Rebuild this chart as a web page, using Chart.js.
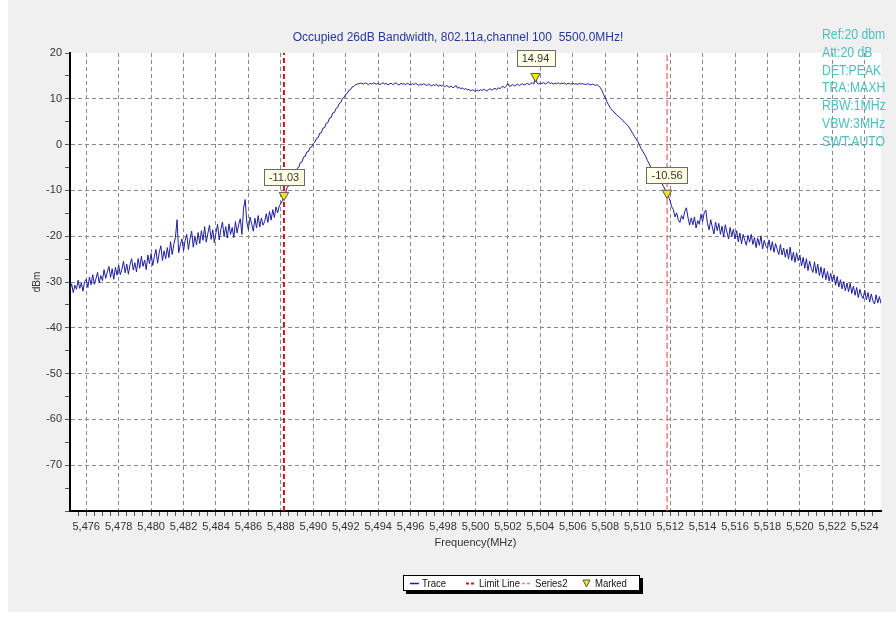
<!DOCTYPE html>
<html><head><meta charset="utf-8">
<script src="https://cdn.jsdelivr.net/npm/chart.js@4.4.1/dist/chart.umd.min.js"></script>
<style>
html,body{margin:0;padding:0;background:#ffffff;}
#wrap{position:relative;width:896px;height:617px;}
canvas{display:block;}
</style></head><body>
<div id="wrap"><canvas id="c" width="896" height="617"></canvas></div>
<script>
// ---- chart texts ----
const chartTitle = 'Occupied 26dB Bandwidth, 802.11a,channel 100  5500.0MHz!';
const infoLines = ['Ref:20 dbm', 'Att:20 dB', 'DET:PEAK', 'TRA:MAXH', 'RBW:1MHz', 'VBW:3MHz', 'SWT:AUTO'];
const xAxisTitle = 'Frequency(MHz)';
const yAxisTitle = 'dBm';

// ---- trace: sampled every 0.1 MHz starting at 5475 MHz ----
const traceStartMHz = 5475;
const traceStepMHz = 0.1;
const traceDbm = [
 -31.8,-30.4,-32.3,-30.7,-31.6,-29.6,-31.4,-30.2,-32.0,-29.9,
 -29.4,-31.2,-28.9,-30.6,-28.4,-30.5,-29.3,-27.9,-30.2,-28.6,
 -29.7,-27.3,-29.2,-27.8,-26.6,-29.0,-27.1,-29.4,-26.8,-28.5,
 -26.3,-28.4,-27.2,-25.5,-28.0,-26.1,-28.3,-26.2,-24.9,-27.4,
 -25.8,-27.8,-24.9,-27.0,-24.4,-26.6,-25.2,-27.3,-24.1,-26.0,
 -23.8,-26.4,-24.5,-22.9,-25.9,-23.6,-22.1,-25.3,-23.2,-24.9,
 -22.5,-24.7,-21.2,-24.0,-21.8,-20.3,-16.4,-23.6,-21.9,-20.6,
 -23.2,-20.9,-19.6,-22.9,-20.6,-18.9,-22.4,-20.0,-21.9,-19.2,
 -21.6,-18.8,-20.9,-17.9,-21.3,-19.4,-17.6,-20.7,-18.6,-21.4,
 -19.2,-17.4,-20.8,-18.5,-16.9,-20.1,-17.9,-20.4,-17.3,-19.6,
 -18.1,-20.3,-16.8,-19.3,-17.4,-16.2,-19.6,-13.9,-12.0,-16.9,
 -18.6,-15.8,-17.3,-18.9,-16.1,-18.2,-15.5,-18.0,-16.0,-17.6,
 -16.8,-15.1,-17.0,-14.6,-16.5,-14.2,-15.9,-13.6,-14.9,-13.4,
 -12.9,-12.2,-11.03,-10.4,-9.2,-9.0,-7.9,-7.6,-6.5,-6.3,
 -5.2,-5.0,-3.9,-3.8,-2.7,-2.6,-1.6,-1.5,-0.6,-0.5,
 0.2,0.6,1.4,1.5,2.5,2.6,3.6,3.7,4.7,4.8,
 5.8,5.9,6.9,7.0,7.9,8.1,9.0,9.2,10.1,10.3,
 11.0,11.2,11.9,12.0,12.6,12.7,13.1,13.2,13.3,13.4,
 13.4,13.2,13.5,13.3,13.1,13.4,13.2,13.5,13.3,13.2,
 13.4,13.1,13.3,13.5,13.2,13.4,13.0,13.3,13.4,13.1,
 13.3,13.5,13.2,13.0,13.4,13.2,13.3,13.1,13.4,13.2,
 13.0,13.3,13.1,13.4,13.2,12.9,13.2,13.0,13.3,13.1,
 12.9,13.2,13.0,12.8,13.1,12.9,13.2,12.7,13.0,12.8,
 12.9,12.6,12.9,12.7,12.5,12.8,12.4,12.6,12.9,12.3,
 12.5,12.2,12.4,12.0,12.3,11.9,12.1,11.7,12.0,11.8,
 11.6,11.9,11.7,12.0,11.8,12.1,11.9,11.7,12.0,12.2,
 11.9,12.1,12.3,12.0,12.4,12.2,12.5,12.7,12.4,12.8,
 13.3,12.7,12.9,13.1,12.8,13.0,13.2,12.9,13.1,13.3,
 13.0,13.2,13.4,13.1,13.3,13.5,13.2,14.94,13.4,13.2,
 13.5,13.3,13.6,13.2,13.4,13.7,13.3,13.5,13.2,13.4,
 13.3,13.5,13.2,13.4,13.3,13.5,13.1,13.4,13.3,13.2,
 13.4,13.2,13.3,13.1,13.4,13.2,13.3,13.2,13.1,13.3,
 13.2,13.0,13.2,13.1,12.9,13.1,12.8,12.4,11.8,10.9,
 10.2,9.4,8.7,8.1,7.6,7.2,6.9,6.5,6.2,5.9,
 5.6,5.2,4.8,4.5,4.1,3.6,3.0,2.4,1.8,1.2,
 0.7,0.0,-0.8,-1.4,-2.0,-2.6,-3.5,-4.1,-4.9,-5.3,
 -5.6,-6.2,-6.9,-7.3,-7.8,-8.5,-9.2,-9.9,-10.56,-11.4,
 -12.3,-13.6,-14.2,-15.8,-14.9,-16.4,-17.0,-15.5,-16.3,-14.6,
 -13.8,-15.9,-17.6,-16.0,-17.5,-15.8,-18.2,-16.6,-17.4,-15.2,
 -16.8,-14.9,-14.3,-17.2,-18.6,-16.4,-18.0,-19.5,-16.9,-18.8,
 -17.2,-19.6,-17.8,-20.2,-17.5,-19.1,-20.6,-18.1,-20.0,-18.5,
 -20.6,-18.8,-21.2,-19.3,-21.7,-19.6,-20.9,-22.0,-19.8,-21.3,
 -19.6,-21.8,-20.3,-22.5,-20.4,-22.0,-19.9,-22.8,-20.9,-22.1,
 -22.7,-20.8,-23.1,-21.2,-23.5,-21.6,-22.9,-24.0,-21.8,-24.1,
 -22.6,-24.6,-22.8,-25.0,-22.4,-25.3,-23.5,-25.7,-23.6,-25.4,
 -24.1,-26.5,-24.6,-27.0,-24.9,-27.5,-25.4,-27.0,-27.9,-25.6,
 -28.1,-26.1,-28.6,-26.7,-29.1,-27.0,-29.5,-27.7,-29.8,-28.1,
 -30.0,-28.4,-30.7,-28.8,-31.1,-29.5,-31.5,-29.9,-31.9,-30.2,
 -32.1,-30.3,-32.5,-30.9,-32.9,-31.2,-33.4,-31.6,-33.0,-33.6,
 -31.8,-33.9,-32.3,-34.4,-32.6,-34.1,-34.8,-32.8,-34.6,-33.2,
 -34.7
];

// ---- vertical lines and markers ----
const limitLineMHz = 5488.19;
const series2MHz = 5511.81;
const markerMHz = [5488.19, 5503.70, 5511.81];
const markerDbm = [-11.03, 14.94, -10.56];

// ---- axes ----
const xMin = 5475, xMax = 5525;
const yMin = -80, yMax = 20;
const xLabelTicks = [5476,5478,5480,5482,5484,5486,5488,5490,5492,5494,5496,5498,5500,5502,5504,5506,5508,5510,5512,5514,5516,5518,5520,5522,5524];
const xMinorStep = 0.5;
const yLabelTicks = [20,10,0,-10,-20,-30,-40,-50,-60,-70];
const yMinorStep = 5;

const FONT = "'Liberation Sans', Arial, sans-serif";

const traceData = traceDbm.map((v, i) => ({x: traceStartMHz + i * traceStepMHz, y: v}));
const markerData = markerMHz.map((f, i) => ({x: f, y: markerDbm[i]}));

const bgPlugin = {
  id: 'bg',
  beforeDraw(chart) {
    const ctx = chart.ctx, a = chart.chartArea;
    ctx.save();
    ctx.fillStyle = '#ffffff';
    ctx.fillRect(0, 0, chart.width, chart.height);
    ctx.fillStyle = '#f0f0f0';
    ctx.fillRect(8, 0, chart.width - 8, 612);
    ctx.fillStyle = '#ffffff';
    ctx.fillRect(a.left, a.top, a.right - a.left, a.bottom - a.top);
    ctx.restore();
  }
};

const textPlugin = {
  id: 'texts',
  afterDraw(chart) {
    const ctx = chart.ctx;
    ctx.save();
    ctx.font = '12px ' + FONT;
    ctx.fillStyle = '#27379a';
    ctx.textAlign = 'center';
    ctx.textBaseline = 'alphabetic';
    ctx.fillText(chartTitle, 458, 41);
    ctx.restore();
    ctx.save();
    ctx.font = '14px ' + FONT;
    ctx.fillStyle = '#4ec0c0';
    ctx.textAlign = 'left';
    ctx.translate(822, 0);
    ctx.scale(0.875, 1);
    infoLines.forEach((t, i) => ctx.fillText(t, 0, 39 + i * 17.8));
    ctx.restore();
  }
};

const markerLabelPlugin = {
  id: 'markerLabels',
  afterDatasetsDraw(chart) {
    const ctx = chart.ctx;
    const idx = chart.data.datasets.findIndex(d => d.label === 'Marked');
    const meta = chart.getDatasetMeta(idx);
    ctx.save();
    ctx.font = '11px ' + FONT;
    ctx.textAlign = 'center';
    ctx.textBaseline = 'middle';
    meta.data.forEach((el, i) => {
      const txt = markerDbm[i].toFixed(2);
      const w = ctx.measureText(txt).width + 10, h = 16;
      const cx = el.x, cy = el.y - 18;
      ctx.fillStyle = '#ffffe6';
      ctx.fillRect(Math.round(cx - w / 2) + 0.5, Math.round(cy - h / 2) + 0.5, Math.round(w), h);
      ctx.strokeStyle = '#6a6a6a';
      ctx.lineWidth = 1;
      ctx.strokeRect(Math.round(cx - w / 2) + 0.5, Math.round(cy - h / 2) + 0.5, Math.round(w), h);
      ctx.fillStyle = '#333';
      ctx.fillText(txt, cx, cy + 1);
    });
    ctx.restore();
  }
};

const legendPlugin = {
  id: 'boxLegend',
  afterDraw(chart) {
    const ctx = chart.ctx;
    const x = 403, y = 575, w = 237, h = 16;
    const ds = chart.data.datasets;
    ctx.save();
    ctx.fillStyle = '#000';
    ctx.fillRect(x + 3, y + 3, w, h);
    ctx.fillStyle = '#fff';
    ctx.fillRect(x, y, w, h);
    ctx.strokeStyle = '#000';
    ctx.lineWidth = 1;
    ctx.strokeRect(x + 0.5, y + 0.5, w - 1, h - 1);
    ctx.font = '11px ' + FONT;
    ctx.textBaseline = 'middle';
    ctx.textAlign = 'left';
    const cy = y + h / 2 + 0.5;
    const items = [
      {ds: ds[0], sx: 410, tx: 422},
      {ds: ds[1], sx: 466, tx: 479},
      {ds: ds[2], sx: 522, tx: 535},
      {ds: ds[3], sx: 583, tx: 595}
    ];
    items.forEach(it => {
      const d = it.ds;
      if (d.label === 'Marked') {
        ctx.beginPath();
        ctx.moveTo(it.sx, cy - 3.5);
        ctx.lineTo(it.sx + 7, cy - 3.5);
        ctx.lineTo(it.sx + 3.5, cy + 3.5);
        ctx.closePath();
        ctx.fillStyle = d.backgroundColor;
        ctx.fill();
        ctx.strokeStyle = d.borderColor;
        ctx.stroke();
      } else {
        ctx.beginPath();
        ctx.strokeStyle = d.borderColor;
        ctx.lineWidth = d.label === 'Limit Line' ? 2 : 1.5;
        ctx.setLineDash(d.borderDash ? [3, 2] : []);
        ctx.moveTo(it.sx, cy);
        ctx.lineTo(it.sx + 9, cy);
        ctx.stroke();
        ctx.setLineDash([]);
        ctx.lineWidth = 1;
      }
      ctx.save();
      ctx.translate(it.tx, cy);
      ctx.scale(0.87, 1);
      ctx.fillStyle = '#111';
      ctx.fillText(d.label, 0, 0);
      ctx.restore();
    });
    ctx.restore();
  }
};

new Chart(document.getElementById('c'), {
  type: 'line',
  data: {
    datasets: [
      {label: 'Trace', data: traceData, borderColor: '#1e1ea0', borderWidth: 1, pointRadius: 0, tension: 0, order: 3},
      {label: 'Limit Line', data: [{x: limitLineMHz, y: yMin}, {x: limitLineMHz, y: yMax}], borderColor: '#c41a1a', borderWidth: 2, borderDash: [5, 3], pointRadius: 0, order: 1},
      {label: 'Series2', data: [{x: series2MHz, y: yMin}, {x: series2MHz, y: yMax}], borderColor: '#f08080', borderWidth: 1.5, borderDash: [6, 3], pointRadius: 0, order: 2},
      {label: 'Marked', data: markerData, showLine: false, pointStyle: 'triangle', rotation: 180, pointRadius: 5.5, backgroundColor: '#f4e41c', borderColor: '#555', borderWidth: 1, order: 0}
    ]
  },
  options: {
    responsive: false,
    animation: false,
    devicePixelRatio: 1,
    layout: {padding: {top: 53, right: 15, left: 0, bottom: 0}},
    plugins: {legend: {display: false}, tooltip: {enabled: false}, title: {display: false}},
    scales: {
      x: {
        type: 'linear', min: xMin, max: xMax,
        afterBuildTicks(s) {
          const t = [];
          for (let v = xMin + xMinorStep; v < xMax; v += xMinorStep) t.push({value: v});
          s.ticks = t;
        },
        afterFit(s) { s.height = 106; },
        ticks: {
          autoSkip: false, maxRotation: 0, minRotation: 0, padding: 4, color: '#333',
          font: {family: FONT, size: 11},
          callback: (v) => xLabelTicks.includes(v) ? v.toLocaleString('en-US') : ''
        },
        grid: {
          color: (c) => (c.tick && xLabelTicks.includes(c.tick.value)) ? '#8a8a8a' : 'rgba(0,0,0,0)',
          tickColor: '#555', tickLength: 5, lineWidth: 1
        },
        border: {display: true, color: '#000', width: 2, dash: [4, 3]},
        title: {display: true, text: xAxisTitle, color: '#333', font: {family: FONT, size: 11}, padding: {top: 0, bottom: 67}}
      },
      y: {
        type: 'linear', min: yMin, max: yMax,
        afterBuildTicks(s) {
          const t = [];
          for (let v = yMin; v <= yMax; v += yMinorStep) t.push({value: v});
          s.ticks = t;
        },
        afterFit(s) { s.width = 70; },
        ticks: {
          autoSkip: false, padding: 3, color: '#333',
          font: {family: FONT, size: 11},
          callback: (v) => yLabelTicks.includes(v) ? String(v) : ''
        },
        grid: {
          color: (c) => (c.tick && yLabelTicks.includes(c.tick.value) && c.tick.value !== yMax) ? '#8a8a8a' : 'rgba(0,0,0,0)',
          tickColor: '#555', tickLength: 5, lineWidth: 1
        },
        border: {display: true, color: '#000', width: 2, dash: [4, 3]},
        title: {display: true, text: yAxisTitle, color: '#333', font: {family: FONT, size: 10}, padding: {top: 31, bottom: 0}}
      }
    }
  },
  plugins: [bgPlugin, markerLabelPlugin, textPlugin, legendPlugin]
});
</script>
</body></html>
